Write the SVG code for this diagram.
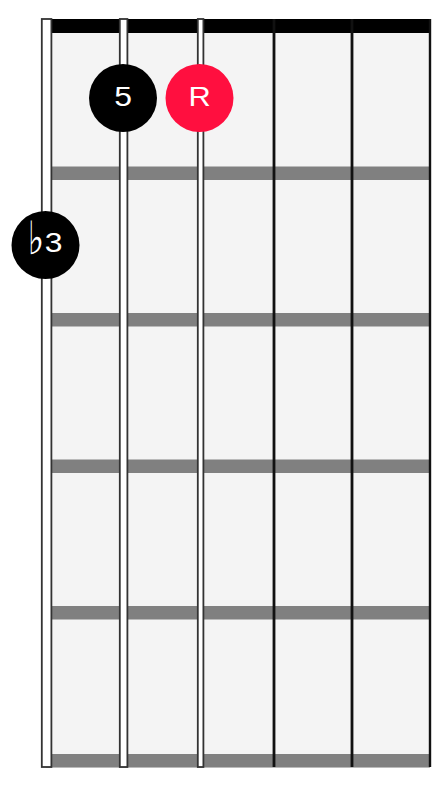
<svg xmlns="http://www.w3.org/2000/svg" width="446" height="786" viewBox="0 0 446 786">
<style>
.fret{fill:#808080}
.ws{fill:#ffffff;stroke:#333333;stroke-width:1.8}
.ps{stroke:#111;fill:none}
.lbl{font-family:"Liberation Sans","DejaVu Sans",sans-serif;font-size:28px;fill:#fff;text-anchor:middle;dominant-baseline:central}
.flat{font-family:"DejaVu Sans",sans-serif;font-size:46px;fill:#fff;text-anchor:middle}
</style>
<rect width="446" height="786" fill="#ffffff"/>
<g id="board">
<rect x="46" y="19" width="384" height="749" fill="#f4f4f4"/>
<rect x="46" y="19" width="385" height="14" fill="#000"/>
<rect class="fret" x="46" y="166.5" width="384" height="13.5"/>
<rect class="fret" x="46" y="313" width="384" height="13.5"/>
<rect class="fret" x="46" y="459.5" width="384" height="13.5"/>
<rect class="fret" x="46" y="606" width="384" height="13.5"/>
<rect class="fret" x="46" y="754" width="384" height="13.5"/>
</g>
<g id="strings">
<rect class="ws" x="41.8" y="19" width="9.6" height="748"/>
<rect class="ws" x="119.8" y="19" width="7.6" height="748"/>
<rect class="ws" x="197.8" y="19" width="5.6" height="748"/>
<line class="ps" x1="274" y1="19" x2="274" y2="767" stroke-width="2.8"/>
<line class="ps" x1="352" y1="19" x2="352" y2="767" stroke-width="2.8"/>
<line class="ps" x1="430" y1="19" x2="430" y2="767" stroke-width="2.4"/>
</g>
<g id="dot-5">
<circle cx="123" cy="98" r="34" fill="#000"/>
<text class="lbl" transform="translate(123 96.5) scale(1.14 1)" x="0" y="0">5</text>
</g>
<g id="dot-R">
<circle cx="199.5" cy="98" r="34" fill="#ff0f3f"/>
<text class="lbl" transform="translate(199.5 96.5) scale(1.1 1)" x="0" y="0">R</text>
</g>
<g id="dot-b3">
<circle cx="45.5" cy="245" r="34" fill="#000"/>
<text class="flat" transform="translate(36 254) scale(0.75 1)" x="0" y="0">♭</text>
<text class="lbl" transform="translate(53.5 242.5) scale(1.14 1)" x="0" y="0">3</text>
</g>
</svg>
